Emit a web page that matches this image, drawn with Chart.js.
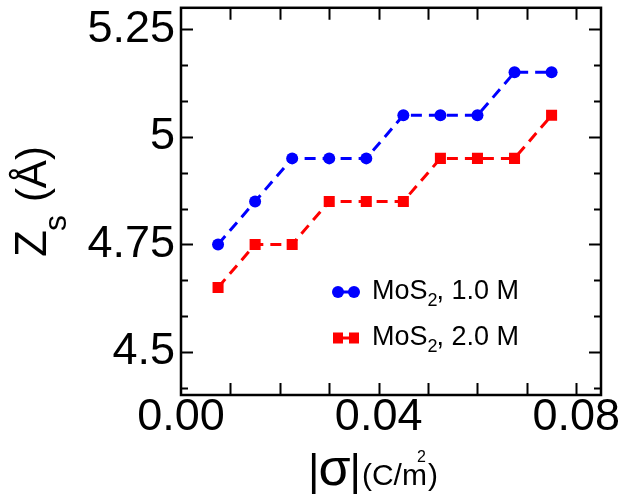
<!DOCTYPE html>
<html>
<head>
<meta charset="utf-8">
<script src="https://cdn.jsdelivr.net/npm/chart.js@4.4.1/dist/chart.umd.min.js"></script>
<style>
  html, body { margin: 0; padding: 0; background: #fff; }
</style>
</head>
<body>
<canvas id="chart" width="623" height="495"></canvas>
<script>
// data
const sigma = [0.0075, 0.015, 0.0225, 0.03, 0.0375, 0.045, 0.0525, 0.06, 0.0675, 0.075];
const zs1M = [4.75, 4.85, 4.95, 4.95, 4.95, 5.05, 5.05, 5.05, 5.15, 5.15];
const zs2M = [4.65, 4.75, 4.75, 4.85, 4.85, 4.85, 4.95, 4.95, 4.95, 5.05];
const seriesNames = [", 1.0 M", ", 2.0 M"];

// axes
const xLabelTicks = [0, 0.04, 0.08];
const xTickMarks = [0.01, 0.02, 0.03, 0.04, 0.05, 0.06, 0.07, 0.08];
const yLabelTicks = [4.5, 4.75, 5, 5.25];
const yMinorTicks = [4.4167, 4.5833, 4.6667, 4.8333, 4.9167, 5.0833, 5.1667];

const FONT = "'Liberation Sans', Arial, sans-serif";

const frame = {
  id: "frame",
  afterDraw(chart) {
    const ctx = chart.ctx;
    const a = chart.chartArea;
    const xs = chart.scales.x;
    const ys = chart.scales.y;
    ctx.save();
    ctx.strokeStyle = "#000";
    ctx.lineWidth = 2;

    // inward ticks on all four sides
    ctx.beginPath();
    xTickMarks.forEach((v) => {
      const px = Math.round(xs.getPixelForValue(v)) + 0.5;
      ctx.moveTo(px, a.bottom); ctx.lineTo(px, a.bottom - 12);
      ctx.moveTo(px, a.top); ctx.lineTo(px, a.top + 12);
    });
    yLabelTicks.forEach((v) => {
      const py = Math.round(ys.getPixelForValue(v)) + 0.5;
      ctx.moveTo(a.left, py); ctx.lineTo(a.left + 12, py);
      ctx.moveTo(a.right, py); ctx.lineTo(a.right - 12, py);
    });
    yMinorTicks.forEach((v) => {
      const py = Math.round(ys.getPixelForValue(v)) + 0.5;
      ctx.moveTo(a.left, py); ctx.lineTo(a.left + 7, py);
      ctx.moveTo(a.right, py); ctx.lineTo(a.right - 7, py);
    });
    ctx.stroke();

    // box
    ctx.lineWidth = 2.5;
    ctx.strokeRect(a.left, a.top, a.right - a.left, a.bottom - a.top);

    ctx.fillStyle = "#000";
    ctx.textBaseline = "alphabetic";
    ctx.textAlign = "left";

    // legend
    chart.data.datasets.forEach((ds, i) => {
      const cy = 292 + i * 46;
      const base = cy + 7;
      ctx.strokeStyle = ds.borderColor;
      ctx.fillStyle = ds.borderColor;
      ctx.lineWidth = 3;
      ctx.setLineDash([]);
      ctx.beginPath();
      ctx.moveTo(338, cy); ctx.lineTo(354, cy);
      ctx.stroke();
      [338, 354].forEach((mx) => {
        if (ds.pointStyle === "rect") {
          ctx.fillRect(mx - 5, cy - 5.5, 10, 11);
        } else {
          ctx.beginPath();
          ctx.arc(mx, cy, 6, 0, Math.PI * 2);
          ctx.fill();
        }
      });
      ctx.fillStyle = "#000";
      let tx = 372;
      ctx.font = "27px " + FONT;
      ctx.fillText("MoS", tx, base);
      tx += ctx.measureText("MoS").width;
      ctx.font = "18px " + FONT;
      ctx.fillText("2", tx, base + 7);
      tx += ctx.measureText("2").width - 1;
      ctx.font = "27px " + FONT;
      ctx.fillText(seriesNames[i], tx, base);
    });

    // x title: |σ|(C/m²)
    let tx = 308;
    const xb = 485;
    ctx.font = "44px " + FONT;
    ctx.fillText("|", tx, xb);
    tx += ctx.measureText("|").width - 1;
    ctx.font = "52px " + FONT;
    ctx.fillText("\u03c3", tx, xb);
    tx += ctx.measureText("\u03c3").width - 1;
    ctx.font = "44px " + FONT;
    ctx.fillText("|", tx, xb);
    tx += ctx.measureText("|").width + 1;
    ctx.font = "30px " + FONT;
    ctx.fillText("(C/m", tx, xb);
    tx += ctx.measureText("(C/m").width;
    ctx.font = "16px " + FONT;
    ctx.fillText("2", tx - 10, xb - 23);
    ctx.font = "30px " + FONT;
    ctx.fillText(")", tx + 1, xb);

    // y title: Zs (Å), rotated
    ctx.translate(46, 257);
    ctx.rotate(-Math.PI / 2);
    let ty = 0;
    ctx.font = "44px " + FONT;
    ctx.fillText("Z", ty, 0);
    ty += ctx.measureText("Z").width;
    ctx.font = "32px " + FONT;
    ctx.fillText("s", ty - 1, 20);
    ty += ctx.measureText("s").width + 12;
    ctx.font = "42px " + FONT;
    ctx.fillText("(\u00c5)", ty, 0);

    ctx.restore();
  },
};

new Chart(document.getElementById("chart"), {
  type: "line",
  data: {
    datasets: [
      {
        label: "MoS2, 1.0 M",
        data: sigma.map((x, i) => ({ x: x, y: zs1M[i] })),
        borderColor: "#0000ff",
        backgroundColor: "#0000ff",
        borderWidth: 3,
        borderDash: [11, 7],
        pointStyle: "circle",
        pointRadius: 6,
        pointBorderWidth: 0,
        pointHoverRadius: 6,
      },
      {
        label: "MoS2, 2.0 M",
        data: sigma.map((x, i) => ({ x: x, y: zs2M[i] })),
        borderColor: "#ff0000",
        backgroundColor: "#ff0000",
        borderWidth: 3,
        borderDash: [11, 7],
        pointStyle: "rect",
        pointRadius: 7.8,
        pointBorderWidth: 0,
        pointHoverRadius: 7.8,
      },
    ],
  },
  options: {
    responsive: false,
    animation: false,
    devicePixelRatio: 1,
    layout: { padding: { left: 1, top: 3, right: 22, bottom: 0 } },
    plugins: { legend: { display: false }, tooltip: { enabled: false } },
    scales: {
      x: {
        type: "linear",
        min: 0,
        max: 0.085,
        afterBuildTicks: (s) => { s.ticks = xLabelTicks.map((v) => ({ value: v })); },
        afterFit: (s) => { s.height = 100; s.paddingLeft = 0; s.paddingRight = 0; },
        grid: { display: false, drawTicks: false },
        border: { display: false },
        ticks: {
          color: "#000",
          padding: -4,
          maxRotation: 0,
          font: { family: FONT, size: 45 },
          callback: (v) => Number(v).toFixed(2),
        },
      },
      y: {
        min: 4.4,
        max: 5.3,
        afterBuildTicks: (s) => { s.ticks = yLabelTicks.map((v) => ({ value: v })); },
        afterFit: (s) => { s.width = 180; s.paddingTop = 0; s.paddingBottom = 0; },
        grid: { display: false, drawTicks: false },
        border: { display: false },
        ticks: {
          color: "#000",
          padding: 6,
          font: { family: FONT, size: 45 },
          callback: (v) => String(v),
        },
      },
    },
  },
  plugins: [frame],
});
</script>
</body>
</html>
